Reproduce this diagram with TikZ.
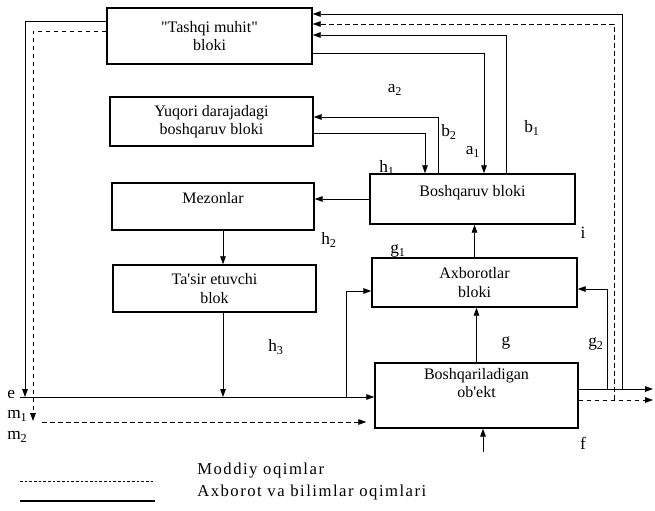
\documentclass[tikz,border=0pt]{standalone}
\usepackage{fontspec}
\setmainfont{Liberation Serif}
\newfontfamily\izohfont[LetterSpace=9]{Liberation Serif}
\usepackage{tikz}
\usetikzlibrary{arrows.meta}

\tikzset{
  blok/.style={draw, line width=1.1pt, inner sep=0pt, align=center, font=\fontsize{12}{14}\selectfont},
  oqim/.style={line width=0.7pt, -{Triangle[length=6pt,width=4.2pt]}},
  moddiy/.style={oqim, dash pattern=on 3.5pt off 2.5pt},
  belgi/.style={inner sep=0.75pt, font=\fontsize{13}{14}\selectfont},
}

\begin{document}
\begin{tikzpicture}[x=0.75pt,y=0.75pt,yscale=-1,xscale=1]
\useasboundingbox (0,0) rectangle (655,510);

% Blocks
\node [blok, minimum width=153.75pt, minimum height=42pt] (tashqi) at (209.5,36) {\textquotedbl Tashqi muhit\textquotedbl\\bloki};
\node [blok, minimum width=152.25pt, minimum height=36.75pt] (yuqori) at (211.5,121.5) {Yuqori darajadagi\\boshqaruv bloki};
\node [blok, minimum width=151.5pt, minimum height=35.25pt] (mezon) at (213,206.5) {Mezonlar\\[-1pt]\mbox{}};
\node [blok, minimum width=152.25pt, minimum height=35.25pt] (tasir) at (214.5,288.5) {Ta\textquotesingle sir etuvchi\\blok};
\node [blok, minimum width=153.75pt, minimum height=37.5pt] (boshq) at (472.5,199) {Boshqaruv bloki\\[-2pt]\mbox{}};
\node [blok, minimum width=153.75pt, minimum height=36.75pt] (axbor) at (474.5,282.5) {Axborotlar\\bloki};
\node [blok, minimum width=152.25pt, minimum height=48.75pt] (obyekt) at (476.5,395.5) {Boshqariladigan\\ob\textquotesingle ekt\\[5pt]\mbox{}};

% Corners
\coordinate (eL) at (20,397);
\coordinate (lw) at (25,21);
\coordinate (ld) at (33,31);
\coordinate (m1) at (33,421);
\coordinate (mS) at (42,422);
\coordinate (hx) at (223,0);
\coordinate (br) at (346,291);
\coordinate (hy) at (425,133);
\coordinate (b2c) at (438,117);
\coordinate (a1c) at (484,53);
\coordinate (b1c) at (506,35);
\coordinate (outS) at (653,389);
\coordinate (outD) at (653,400);
\coordinate (g2c) at (607,289);
\coordinate (rd) at (614,24);
\coordinate (rs) at (622,14);
\coordinate (f) at (483,452);

% Solid flows
\draw [oqim] (lw -| tashqi.west) -- (lw) -- (lw |- eL);
\draw [oqim] (eL) -- (eL -| obyekt.west);
\draw [oqim] (hx |- tasir.south) -- (hx |- eL);
\draw [oqim] (hx |- mezon.south) -- (hx |- tasir.north);
\draw [oqim] (br |- eL) -- (br) -- (br -| axbor.west);
\draw [oqim] (boshq.west) -- (boshq.west -| mezon.east);
\draw [oqim] (hy -| yuqori.east) -- (hy) -- (hy |- boshq.north);
\draw [oqim] (b2c |- boshq.north) -- (b2c) -- (b2c -| yuqori.east);
\draw [oqim] (a1c -| tashqi.east) -- (a1c) -- (a1c |- boshq.north);
\draw [oqim] (b1c |- boshq.north) -- (b1c) -- (b1c -| tashqi.east);
\draw [oqim] (axbor.north) -- (axbor.north |- boshq.south);
\draw [oqim] (obyekt.north) -- (obyekt.north |- axbor.south);
\draw [oqim] (f) -- (f |- obyekt.south);
\draw [oqim] (outS -| obyekt.east) -- (outS);
\draw [oqim] (g2c |- outS) -- (g2c) -- (g2c -| axbor.east);
\draw [oqim] (rs |- outS) -- (rs) -- (rs -| tashqi.east);

% Dashed flows
\draw [moddiy] (ld -| tashqi.west) -- (ld) -- (m1);
\draw [moddiy, shorten >=6pt] (mS) -- (mS -| obyekt.west);
\draw [moddiy] (outD -| obyekt.east) -- (outD);
\draw [moddiy] (rd |- outD) -- (rd) -- (rd -| tashqi.east);

% Text Node
\node [belgi] (la2) at (395,90) {a\textsubscript{2}};
\node [belgi] (lb2) at (449,132) {b\textsubscript{2}};
\node [belgi] (la1) at (473,152) {a\textsubscript{1}};
\node [belgi] (lb1) at (532,128) {b\textsubscript{1}};
\node [belgi] (lh1) at (387,168) {h\textsubscript{1}};
\node [belgi] (lh2) at (329,240) {h\textsubscript{2}};
\node [belgi] (li) at (583,233) {i};
\node [belgi] (lg1) at (398,251) {g\textsubscript{1}};
\node [belgi] (lg) at (506,343) {g};
\node [belgi] (lg2) at (596,344) {g\textsubscript{2}};
\node [belgi] (lf) at (583,443) {f};
\node [belgi] (lh3) at (276,347) {h\textsubscript{3}};
\node [belgi, anchor=west] (le) at (6,394) {e};
\node [belgi, anchor=west] (lm1) at (6,416) {m\textsubscript{1}};
\node [belgi, anchor=west] (lm2) at (6,437) {m\textsubscript{2}};

% Legend
\coordinate (izd1) at (20,481);
\coordinate (izd2) at (155,481);
\coordinate (izs1) at (20,501);
\coordinate (izs2) at (155,501);
\draw [line width=0.6pt, dash pattern=on 2pt off 1.5pt] (izd1) -- (izd2);
\draw [line width=0.8pt] (izs1) -- (izs2);
\node [anchor=west, inner sep=0pt, font=\izohfont\fontsize{12.5}{14}\selectfont] (izoh1) at (197,471) {Moddiy oqimlar};
\node [anchor=west, inner sep=0pt, font=\izohfont\fontsize{12.5}{14}\selectfont] (izoh2) at (197,492) {Axborot va bilimlar oqimlari};

\end{tikzpicture}
\end{document}
